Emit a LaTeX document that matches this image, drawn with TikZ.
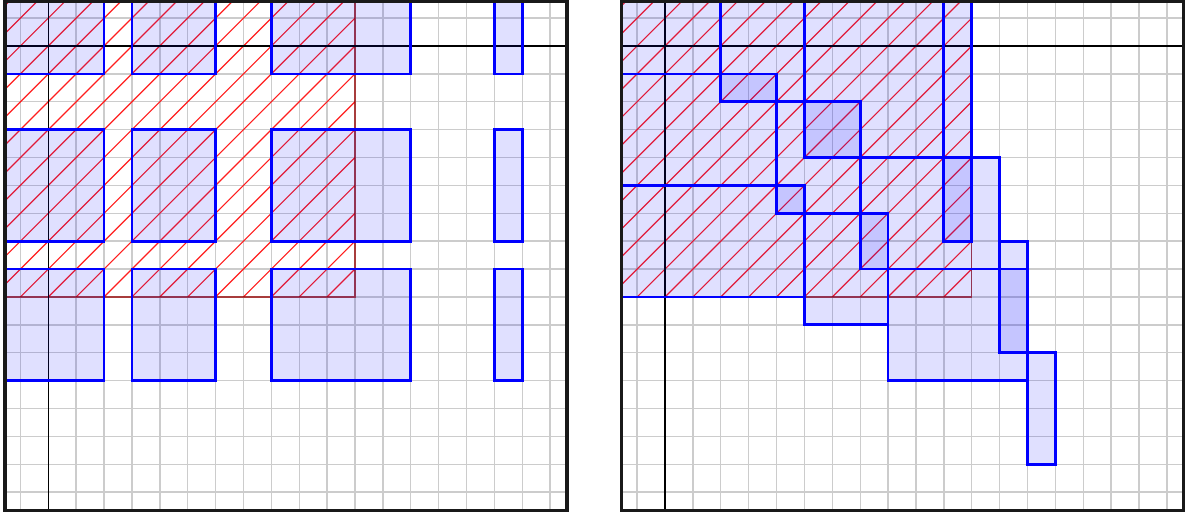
\documentclass[tikz,border=0pt]{standalone}
\usepackage{xcolor}
\usepackage{tikz}
\definecolor{tileblue}{RGB}{0,0,255}
\definecolor{hatchred}{RGB}{255,30,30}

\begin{document}
\begin{tikzpicture}[
    x=0.5cm,y=-0.5cm,
    gridline/.style={draw=black!20,line width=0.7pt},
    axisline/.style={draw=black,line width=0.8pt},
    hatchline/.style={draw=hatchred,line width=0.6pt},
    hatchedge/.style={draw=red!60!black,draw opacity=0.7,line width=0.6pt},
    tile/.style={draw=tileblue,line width=1.4pt,fill=tileblue,fill opacity=0.12},
    frame/.style={draw=black!90,line width=1.7pt},
  ]
  \useasboundingbox (-1.732,-1.65) rectangle (40.77,16.71);

  % left panel: tiles with gaps
  \begin{scope}
    \begin{scope}
      \clip (-1.553,-1.59) rectangle (18.6,16.65);
      \foreach \i in {-1,...,18} \draw[gridline] (\i,-2) -- (\i,17);
      \foreach \j in {-1,...,16} \draw[gridline] (-2,\j) -- (19,\j);
      \begin{scope}
        \clip (-2,-2) rectangle (11,9);
        \foreach \k in {-13,...,11} \draw[hatchline] (\k,9) -- ++(12,-12);
      \end{scope}
      \draw[hatchedge] (-2,-2) rectangle (11,9);
      \draw[axisline] (0,-2) -- (0,17);
      \draw[axisline] (-2,0) -- (19,0);
      \foreach \xa/\xb in {-5/2,3/6,8/13,16/17}
        \foreach \ya/\yb in {-8/1,3/7,8/12}
          \draw[tile] (\xa,\ya) rectangle (\xb,\yb);
    \end{scope}
    \draw[frame] (-1.553,-1.59) rectangle (18.6,16.65);
  \end{scope}

  % right panel: packed tiles
  \begin{scope}[xshift=11.06cm]
    \begin{scope}
      \clip (-1.553,-1.59) rectangle (18.6,16.65);
      \foreach \i in {-1,...,18} \draw[gridline] (\i,-2) -- (\i,17);
      \foreach \j in {-1,...,16} \draw[gridline] (-2,\j) -- (19,\j);
      \begin{scope}
        \clip (-2,-2) rectangle (11,9);
        \foreach \k in {-13,...,11} \draw[hatchline] (\k,9) -- ++(12,-12);
      \end{scope}
      \draw[hatchedge] (-2,-2) rectangle (11,9);
      \draw[axisline] (0,-2) -- (0,17);
      \draw[axisline] (-2,0) -- (19,0);
      % column 1
      \draw[tile] (-5,-8) rectangle (2,1);
      \draw[tile] (-3,1) rectangle (4,5);
      \draw[tile] (-2,5) rectangle (5,9);
      % column 2
      \draw[tile] (2,-7) rectangle (5,2);
      \draw[tile] (4,2) rectangle (7,6);
      \draw[tile] (5,6) rectangle (8,10);
      % column 3
      \draw[tile] (5,-5) rectangle (10,4);
      \draw[tile] (7,4) rectangle (12,8);
      \draw[tile] (8,8) rectangle (13,12);
      % column 4
      \draw[tile] (10,-2) rectangle (11,7);
      \draw[tile] (12,7) rectangle (13,11);
      \draw[tile] (13,11) rectangle (14,15);
    \end{scope}
    \draw[frame] (-1.553,-1.59) rectangle (18.6,16.65);
  \end{scope}
\end{tikzpicture}
\end{document}
